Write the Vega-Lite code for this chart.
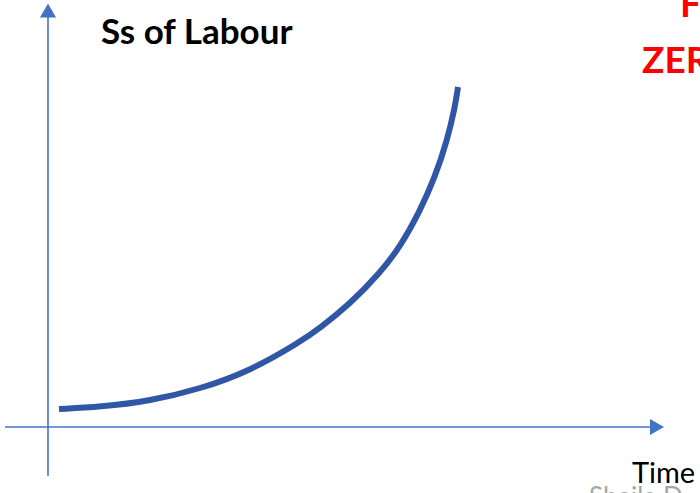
{
  "$schema": "https://vega.github.io/schema/vega-lite/v6.json",
  "width": 700,
  "height": 493,
  "padding": 0,
  "autosize": {"type": "fit", "contains": "padding"},
  "background": "white",
  "config": {"view": {"stroke": null}},
  "datasets": {
    "curve": [
      {"t": 1.1, "s": 1.8},
      {"t": 5.2, "s": 2.0},
      {"t": 10.2, "s": 2.6},
      {"t": 15.2, "s": 3.8},
      {"t": 20.2, "s": 5.6},
      {"t": 25.2, "s": 8.5},
      {"t": 27.2, "s": 9.9},
      {"t": 30.2, "s": 12.3},
      {"t": 33.2, "s": 15.4},
      {"t": 35.2, "s": 18.0},
      {"t": 37.2, "s": 21.6},
      {"t": 38.7, "s": 25.0},
      {"t": 39.9, "s": 28.6},
      {"t": 40.7, "s": 32.0},
      {"t": 41.0, "s": 34.0}
    ],
    "hAxis": [{"t": -4.3, "t2": 60.4, "s": 0}],
    "vAxis": [{"t": 0, "s": -4.9, "s2": 41.1}],
    "arrowsUp": [{"t": 0, "s": 41.65}],
    "arrowsRight": [{"t": 60.9, "s": 0}],
    "titleLabel": [{"t": 5.3, "s": 38.3, "label": "Ss of Labour"}],
    "redLabels": [
      {"t": 63.2, "s": 41.0, "label": "F"},
      {"t": 59.4, "s": 35.4, "label": "ZER"}
    ],
    "timeLabel": [{"t": 58.4, "s": -5.6, "label": "Time"}],
    "credit": [{"t": 54.1, "s": -7.9, "label": "Sheila D"}]
  },
  "encoding": {
    "x": {"field": "t", "type": "quantitative", "scale": {"domain": [-4.8, 65.2], "nice": false, "zero": false}, "axis": null},
    "y": {"field": "s", "type": "quantitative", "scale": {"domain": [-6.6, 42.7], "nice": false, "zero": false}, "axis": null}
  },
  "layer": [
    {
      "data": {"name": "hAxis"},
      "mark": {"type": "rule", "color": "#4472C4", "strokeWidth": 1.6},
      "encoding": {"x2": {"field": "t2"}}
    },
    {
      "data": {"name": "vAxis"},
      "mark": {"type": "rule", "color": "#4472C4", "strokeWidth": 1.6},
      "encoding": {"y2": {"field": "s2"}}
    },
    {
      "data": {"name": "arrowsUp"},
      "mark": {"type": "point", "shape": "triangle-up", "size": 260, "filled": true, "color": "#4472C4", "opacity": 1}
    },
    {
      "data": {"name": "arrowsRight"},
      "mark": {"type": "point", "shape": "triangle-right", "size": 260, "filled": true, "color": "#4472C4", "opacity": 1}
    },
    {
      "data": {"name": "curve"},
      "mark": {"type": "line", "color": "#3056A6", "strokeWidth": 6, "interpolate": "basis", "strokeCap": "butt"},
      "encoding": {"order": {"field": "t", "type": "quantitative"}}
    },
    {
      "data": {"name": "titleLabel"},
      "mark": {"type": "text", "font": "Lato", "fontWeight": "bold", "fontSize": 35, "color": "#000000", "align": "left", "baseline": "alphabetic", "clip": true},
      "encoding": {"text": {"field": "label"}}
    },
    {
      "data": {"name": "redLabels"},
      "mark": {"type": "text", "font": "Lato", "fontWeight": "bold", "fontSize": 37, "color": "#FF0000", "align": "left", "baseline": "alphabetic", "clip": true},
      "encoding": {"text": {"field": "label"}}
    },
    {
      "data": {"name": "timeLabel"},
      "mark": {"type": "text", "font": "Lato", "fontSize": 29, "color": "#000000", "align": "left", "baseline": "alphabetic", "clip": true},
      "encoding": {"text": {"field": "label"}}
    },
    {
      "data": {"name": "credit"},
      "mark": {"type": "text", "font": "Lato", "fontSize": 26, "color": "#A6A6A6", "align": "left", "baseline": "alphabetic", "clip": true},
      "encoding": {"text": {"field": "label"}}
    }
  ]
}
